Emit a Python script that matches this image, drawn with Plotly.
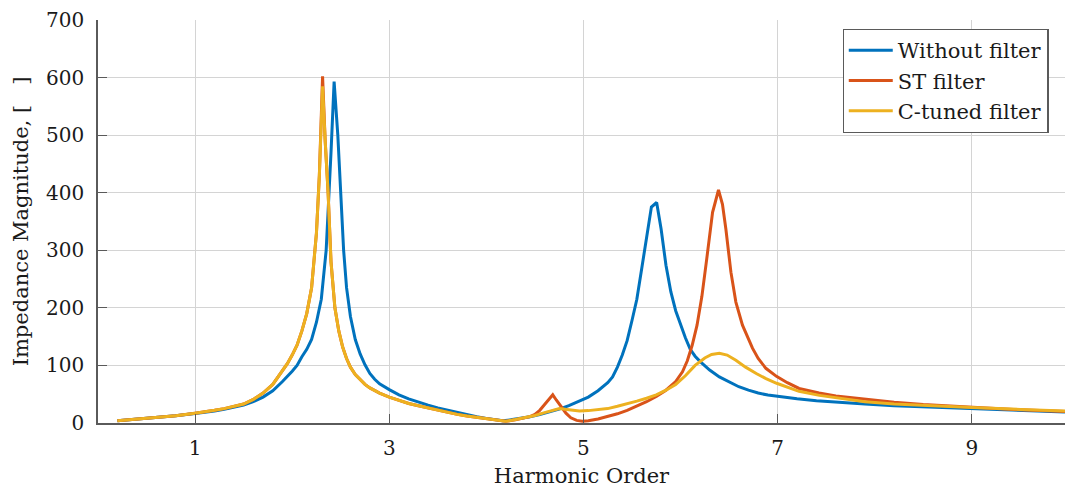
import plotly.graph_objects as go

# ---- data ----
x_without = [0.2, 0.4, 0.6, 0.8, 1.0, 1.1, 1.2, 1.3, 1.4, 1.5, 1.6, 1.7, 1.8, 1.9, 2.0, 2.05, 2.1,
             2.15, 2.2, 2.25, 2.3, 2.35, 2.40, 2.432, 2.47, 2.50, 2.53, 2.56, 2.60, 2.65, 2.70,
             2.75, 2.80, 2.85, 2.90, 3.0, 3.1, 3.2, 3.3, 3.4, 3.5, 3.6, 3.7, 3.8, 3.9, 4.0, 4.1,
             4.17, 4.25, 4.35, 4.45, 4.55, 4.65, 4.75, 4.85, 4.95, 5.05, 5.15, 5.25, 5.30, 5.35,
             5.40, 5.45, 5.50, 5.55, 5.60, 5.65, 5.70, 5.754, 5.80, 5.85, 5.90, 5.95, 6.0, 6.05,
             6.1, 6.15, 6.2, 6.3, 6.4, 6.5, 6.6, 6.7, 6.8, 6.9, 7.0, 7.2, 7.4, 7.6, 7.9, 8.2,
             8.5, 9.0, 9.5, 9.96]
y_without = [4, 6.5, 9, 12.5, 16.5, 18.5, 21, 24, 27, 31, 37, 45, 56, 72, 90, 100, 115,
             128, 145, 175, 215, 300, 470, 593, 500, 390, 300, 235, 185, 145, 120,
             101, 86, 76, 68, 58, 49, 42, 36, 31, 26, 22, 18, 14, 11, 8, 5.5,
             4, 5.5, 8, 11, 14.5, 19, 24, 30, 37, 45, 56, 70, 80, 97,
             118, 143, 178, 215, 268, 325, 375, 383, 337, 274, 228, 195, 171, 148,
             128, 116, 107, 92, 80, 71, 63, 57, 52, 48.5, 46, 42, 38.5, 36, 33, 30,
             28, 25, 22, 19]

x_st = [0.2, 0.4, 0.6, 0.8, 1.0, 1.1, 1.2, 1.3, 1.4, 1.5, 1.6, 1.7, 1.8, 1.9, 1.95, 2.0, 2.05,
        2.1, 2.15, 2.2, 2.25, 2.28, 2.313, 2.34, 2.37, 2.40, 2.44, 2.48, 2.52, 2.56, 2.60,
        2.65, 2.70, 2.75, 2.8, 2.9, 3.0, 3.1, 3.2, 3.3, 3.4, 3.5, 3.6, 3.7, 3.8, 3.9, 4.0,
        4.1, 4.2, 4.3, 4.4, 4.45, 4.5, 4.55, 4.6, 4.65, 4.684, 4.72, 4.77, 4.82, 4.87, 4.93,
        4.99, 5.05, 5.15, 5.25, 5.35, 5.45, 5.55, 5.65, 5.75, 5.85, 5.95, 6.02, 6.07, 6.12,
        6.17, 6.22, 6.27, 6.33, 6.357, 6.391, 6.432, 6.467, 6.519, 6.57, 6.638, 6.70, 6.741,
        6.8, 6.879, 6.988, 7.1, 7.221, 7.427, 7.6, 7.907, 8.2, 8.5, 9.0, 9.5, 9.96]
y_st = [4, 6.5, 9, 12.5, 17, 19, 22, 25, 29, 33, 41, 52, 67, 90, 103, 118, 135,
        160, 190, 235, 330, 430, 602, 490, 400, 280, 200, 160, 132, 112, 97,
        84, 75, 67, 61, 52, 45, 39, 34, 30, 26, 22, 19, 15, 12, 9.5, 7,
        5, 3, 5.5, 9, 11, 15, 22, 32, 43, 49, 40, 28, 17, 9, 4.5,
        3, 4, 7, 11, 16, 22, 29, 37, 46, 57, 72, 89, 108, 135,
        170, 220, 285, 366, 383, 405, 380, 337, 262, 210, 170, 144, 130,
        112, 95, 81, 70, 60, 52, 47, 41, 36, 32, 27, 23, 20]

x_ctuned = [0.2, 0.4, 0.6, 0.8, 1.0, 1.1, 1.2, 1.3, 1.4, 1.5, 1.6, 1.7, 1.8, 1.9, 1.95, 2.0,
            2.05, 2.1, 2.15, 2.2, 2.25, 2.28, 2.313, 2.34, 2.37, 2.40, 2.44, 2.48, 2.52, 2.56,
            2.60, 2.65, 2.70, 2.75, 2.8, 2.9, 3.0, 3.1, 3.2, 3.3, 3.4, 3.5, 3.6, 3.7, 3.8, 3.9,
            4.0, 4.1, 4.2, 4.3, 4.4, 4.5, 4.6, 4.7, 4.753, 4.85, 4.959, 5.05, 5.15, 5.25, 5.35,
            5.45, 5.55, 5.65, 5.75, 5.85, 5.95, 6.05, 6.15, 6.25, 6.32, 6.40, 6.48, 6.57, 6.67,
            6.78, 6.88, 6.99, 7.1, 7.22, 7.43, 7.6, 7.9, 8.2, 8.5, 9.0, 9.5, 9.96]
y_ctuned = [4, 6.5, 9, 12.5, 17, 19, 22, 25, 29, 33, 41, 52, 67, 90, 103, 118,
            135, 160, 190, 235, 330, 430, 585, 490, 400, 280, 200, 160, 132, 112,
            97, 84, 75, 67, 61, 52, 45, 39, 34, 30, 26, 22, 19, 15, 12, 9.5,
            7, 5, 3, 6, 9.5, 13, 18, 23, 25, 23, 21, 21.5, 23, 25, 29,
            33, 38, 43, 49, 57, 67, 82, 100, 113, 119, 121, 118, 109, 97,
            86, 77, 69, 62, 55, 48, 44, 37, 33, 30.5, 27, 23.5, 21]

series_names = ["Without filter", "ST filter", "C-tuned filter"]
series_colors = ["#0072BD", "#D95319", "#EDB120"]

x_tickvals = [1, 3, 5, 7, 9]
y_tickvals = [0, 100, 200, 300, 400, 500, 600, 700]

FONT = "DejaVu Serif"

fig = go.Figure()
for name, xs, ys, col in zip(series_names,
                             [x_without, x_st, x_ctuned],
                             [y_without, y_st, y_ctuned],
                             series_colors):
    fig.add_trace(go.Scatter(x=xs, y=ys, mode="lines", name=name,
                             line=dict(color=col, width=3)))

axis_common = dict(
    showgrid=True, gridcolor="#d4d4d4", gridwidth=1,
    showline=True, linecolor="#5a5a5a", linewidth=1.5,
    ticks="inside", ticklen=9, tickcolor="#5a5a5a", tickwidth=1,
    zeroline=False, mirror=False,
    tickfont=dict(family=FONT, size=20, color="#1a1a1a"),
)

fig.update_xaxes(range=[0, 9.96], tickvals=x_tickvals,
                 title=dict(text="Harmonic Order", font=dict(family=FONT, size=21, color="#1a1a1a"),
                            standoff=14),
                 ticklabelstandoff=6,
                 **axis_common)
fig.update_yaxes(range=[0, 700], tickvals=y_tickvals,
                 title=dict(text="Impedance Magnitude, [   ]",
                            font=dict(family=FONT, size=21, color="#1a1a1a"), standoff=12),
                 ticklabelstandoff=8,
                 **axis_common)

fig.update_layout(
    width=1065, height=488,
    margin=dict(l=98, r=0, t=20, b=63),
    paper_bgcolor="white", plot_bgcolor="white",
    font=dict(family=FONT, color="#1a1a1a"),
    legend=dict(x=0.983, y=0.978, xanchor="right", yanchor="top",
                bgcolor="white", bordercolor="#5a5a5a", borderwidth=1.2,
                font=dict(family=FONT, size=21, color="#1a1a1a"),
                tracegroupgap=0, itemwidth=44),
    showlegend=True,
)

fig.write_html("out.html")
